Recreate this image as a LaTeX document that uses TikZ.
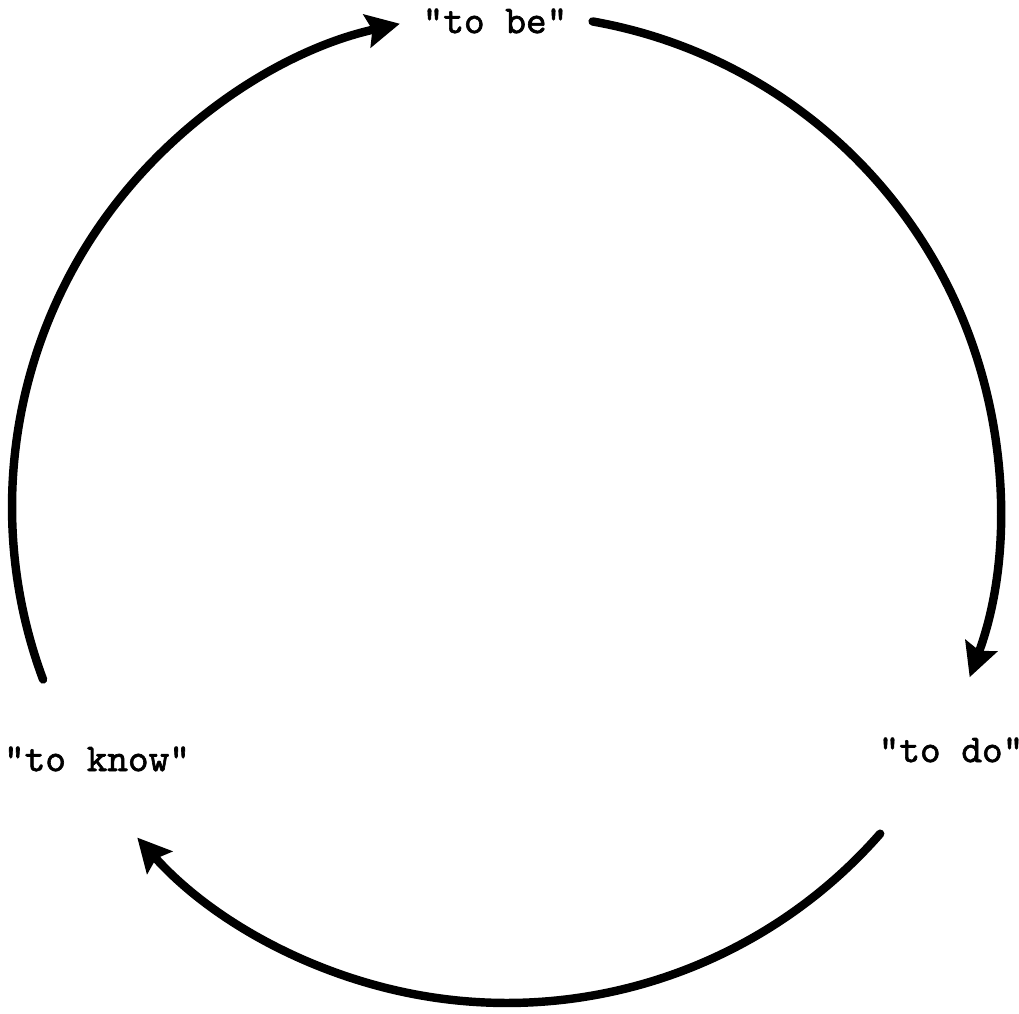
\documentclass[tikz,border=0pt]{standalone}
\usepackage{fontspec}
\usepackage{tikz}
\usetikzlibrary{arrows.meta}
\newfontfamily\typer[FakeBold=1.6]{lmmono10-regular.otf}

\begin{document}
\begin{tikzpicture}[
	flow/.style={line width=2.4pt, line cap=round, -{Stealth[length=9.5pt, width=9.5pt, inset=1.5pt]}},
	word/.style={font=\fontsize{11.2}{13}\selectfont\typer}]
			\useasboundingbox (0,0) rectangle (10.19,10.14);
			\coordinate (c) at (5.07,5.07);
			\node[word] (be) at (4.95,9.93) {"to be"};
			\node[word] (know) at (0.97,2.55) {"to know"};
			\node[word] (do) at (9.51,2.64) {"to do"};
			\path (c) ++(200.4:4.95) coordinate (knowtop);
			\path (c) ++(80:4.93) coordinate (beright);
			\path (c) ++(-41.2:4.96) coordinate (dobottom);
			\draw[flow] (knowtop) arc[start angle=200.4, end angle=102.5, radius=4.95];
			\draw[flow] (beright) arc[start angle=80, end angle=-20.2, radius=4.93];
			\draw[flow] (dobottom) arc[start angle=-41.2, end angle=-138.2, radius=4.96];
		\end{tikzpicture}
\end{document}
